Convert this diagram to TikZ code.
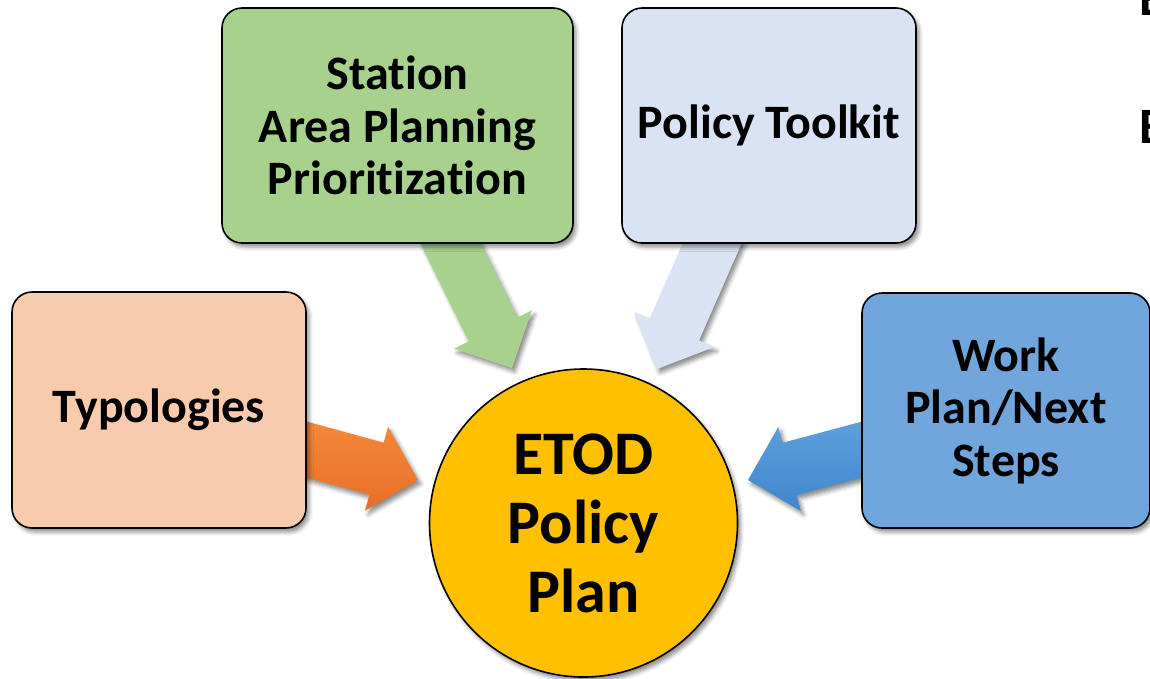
\documentclass[tikz,border=0pt]{standalone}
\usepackage{fontspec}
\setmainfont[Ligatures=NoCommon]{Carlito}
\usetikzlibrary{calc,shadows.blur}
\definecolor{peach}{HTML}{F8CBAD}
\definecolor{sgreen}{HTML}{A9D18E}
\definecolor{pale}{HTML}{DAE3F3}
\definecolor{wblue}{HTML}{70A6DB}
\definecolor{gold}{HTML}{FFC000}
\definecolor{orTop}{HTML}{F5893A}
\definecolor{orBot}{HTML}{E76F28}
\definecolor{blTop}{HTML}{5DA0DD}
\definecolor{blBot}{HTML}{3F86CB}
\newcommand\blockarr[3]{%
  \coordinate (#1h) at ($(#2)!43pt!(#1)$);
  \path[#3] ($(#1)!27pt!90:(#2)$) -- ($(#1h)!27pt!90:(#2)$) -- ($(#1h)!43.5pt!90:(#2)$)
    -- (#2) -- ($(#1h)!43.5pt!-90:(#2)$) -- ($(#1h)!27pt!-90:(#2)$) -- ($(#1)!27pt!-90:(#2)$) -- cycle;
}
\begin{document}
\begin{tikzpicture}[x=1pt,y=-1pt,
  shad/.style={blur shadow={shadow xshift=3pt,shadow yshift=-4pt,shadow blur radius=4pt,shadow opacity=45}},
  box/.style={draw=black,line width=1.6pt,rounded corners=20pt,align=center,inner sep=0pt,
    font=\bfseries\fontsize{48}{52.5}\selectfont,shad},
  arr/.style={shad}]
\useasboundingbox (0,0) rectangle (1150,678);
\clip (0,0) rectangle (1150,678);
% arrow anchors
\coordinate (oS) at (290,445); \coordinate (oT) at (418,480);
\coordinate (gS) at (444,230); \coordinate (gT) at (512,368);
\coordinate (pS) at (718,230); \coordinate (pT) at (657,369);
\coordinate (bS) at (875,446); \coordinate (bT) at (748,480);
\blockarr{oS}{oT}{arr,top color=orTop,bottom color=orBot}
\blockarr{gS}{gT}{arr,fill=sgreen}
\blockarr{pS}{pT}{arr,fill=pale}
\blockarr{bS}{bT}{arr,top color=blTop,bottom color=blBot}
% boxes
\node[box,fill=peach,minimum width=294pt,minimum height=236pt] (typ) at (159,410) {Typologies};
\node[box,fill=sgreen,minimum width=351pt,minimum height=235pt] (sta) at (397.5,125.5) {Station\\Area Planning\\Prioritization};
\node[box,fill=pale,minimum width=294pt,minimum height=235pt] (tool) at (769,125.5) {Policy Toolkit};
\node[box,fill=wblue,minimum width=288pt,minimum height=235pt] (work) at (1006,410.5) {Work\\Plan/Next\\Steps};
% centre circle
\node[circle,draw=black,line width=1.6pt,fill=gold,minimum size=308pt,inner sep=0pt,align=center,
  font=\bfseries\fontsize{62}{69}\selectfont,shad] (etod) at (583.5,523) {ETOD\\Policy\\Plan};
% clipped text at the right edge (cut off in the reference too)
\node[anchor=base west,inner sep=0pt,font=\bfseries\fontsize{51}{60}\selectfont] (e1) at (1139,15) {E};
\node[anchor=base west,inner sep=0pt,font=\bfseries\fontsize{51}{60}\selectfont] (e2) at (1139,143) {E};
\end{tikzpicture}
\end{document}
